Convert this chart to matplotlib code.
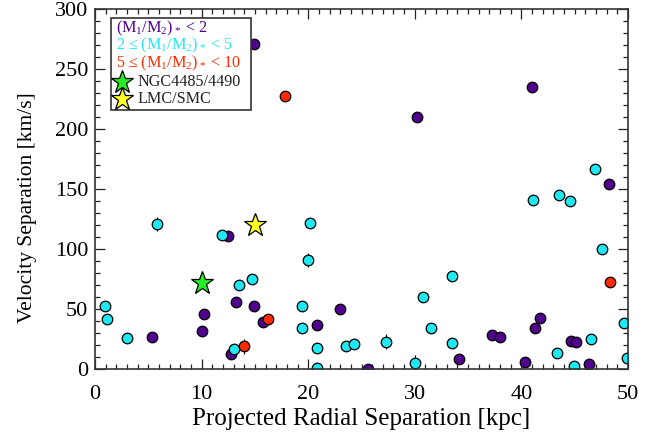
import matplotlib
matplotlib.use("Agg")
import matplotlib.pyplot as plt
from matplotlib.patches import Rectangle
from matplotlib.ticker import MultipleLocator

plt.rcParams['font.family'] = ['Liberation Serif', 'DejaVu Serif']
plt.rcParams['mathtext.fontset'] = 'custom'
plt.rcParams['mathtext.rm'] = 'Liberation Serif'
plt.rcParams['mathtext.it'] = 'Liberation Serif:italic'

# pairs with mass ratio (M1/M2)* < 2
low_x = [14.9, 30.2, 41.0, 48.2, 12.5, 13.2, 10.2, 14.9, 15.8, 5.3, 10.0, 12.8,
         23.0, 20.8, 25.6, 34.1, 37.2, 38.0, 41.3, 41.7, 40.3, 44.65, 45.1, 46.3]
low_y = [271, 210, 235, 154, 111, 56, 46, 53, 39, 27, 32, 13,
         50, 37, 0, 8.5, 28.6, 26.6, 34, 43, 6.4, 23.6, 22.8, 4.7]

# 2 <= ratio < 5
mid_x = [5.8, 11.9, 13.5, 14.75, 0.9, 1.1, 3.0, 13.0, 20.2, 20.0, 19.4, 19.4,
         20.8, 23.5, 24.3, 27.3, 20.8, 30.0, 30.8, 31.5, 33.5, 33.5, 46.9, 41.06,
         43.5, 44.6, 47.6, 43.3, 46.5, 44.9, 49.6, 49.9]
mid_y = [121, 112, 70, 75, 53, 42, 26, 17, 122, 91, 53, 34,
         18, 19, 21, 23, 1, 5.6, 60, 34, 78, 22, 167, 141,
         145, 140, 100, 13.6, 25, 2.7, 38.6, 9.7]
mid_err = [6, 0, 0, 0, 0, 0, 0, 0, 0, 6, 0, 0,
           0, 0, 0, 6, 0, 6, 0, 0, 0, 0, 0, 0,
           0, 0, 0, 0, 0, 0, 0, 0]

# 5 <= ratio < 10
high_x = [17.8, 16.25, 14.0, 48.3]
high_y = [228, 42, 19, 73]
high_err = [0, 0, 6, 0]

# reference pairs
ngc_x, ngc_y = [10.0], [72]
lmc_x, lmc_y = [15.0], [120]

c_low = '#50008c'
c_mid = '#1ee8f2'
c_high = '#ff2a00'

fig = plt.figure(figsize=(6.57, 4.34), dpi=100)
ax = fig.add_axes([0.1446, 0.1491, 0.8113, 0.8295])

circ = dict(marker='o', ms=7.6, mec='black', mew=0.9, ls='none')
ax.plot(low_x, low_y, color=c_low, **circ)
ax.errorbar(mid_x, mid_y, yerr=mid_err, fmt='none', ecolor='black', elinewidth=0.8)
ax.plot(mid_x, mid_y, color=c_mid, **circ)
ax.errorbar(high_x, high_y, yerr=high_err, fmt='none', ecolor='black', elinewidth=0.8)
ax.plot(high_x, high_y, color=c_high, **circ)

star = dict(marker='*', ms=17, mec='black', mew=0.9, ls='none')
ax.plot(ngc_x, ngc_y, color='#22ee22', **star)
ax.plot(lmc_x, lmc_y, color='#ffff22', **star)

ax.set_xlim(0, 50)
ax.set_ylim(0, 300)
ax.xaxis.set_major_locator(MultipleLocator(10))
ax.xaxis.set_minor_locator(MultipleLocator(1))
ax.yaxis.set_major_locator(MultipleLocator(50))
ax.yaxis.set_minor_locator(MultipleLocator(10))
ax.tick_params(which='both', direction='in', top=True, right=True,
               colors='#222222', labelcolor='black', labelsize=16)
ax.tick_params(which='major', length=7.2, width=0.9)
ax.tick_params(which='minor', length=3.6, width=0.9)
ax.tick_params(axis='x', pad=11)
ax.tick_params(axis='y', pad=5)
for s in ax.spines.values():
    s.set_color('#333333')
    s.set_linewidth(1.2)

ax.set_xlabel('Projected Radial Separation [kpc]', fontsize=18, labelpad=3)
ax.set_ylabel('Velocity Separation [km/s]', fontsize=15.5)
ax.yaxis.set_label_coords(-0.108, 0.45)

# legend box
ax.add_patch(Rectangle((0.030, 0.720), 0.262, 0.255, transform=ax.transAxes,
                       facecolor='white', edgecolor='#333333', lw=1.2, zorder=5))
ratio = r'(M$_1$/M$_2$)$_*$'
lines = [(ratio + ' < 2', c_low),
         ('2 ≤ ' + ratio + ' < 5', c_mid),
         ('5 ≤ ' + ratio + ' < 10', c_high)]
for i, (txt, col) in enumerate(lines):
    ax.text(0.040, 0.947 - i * 0.0485, txt, color=col, fontsize=11.6,
            transform=ax.transAxes, va='center', ha='left', zorder=6)
for j, (lab, col) in enumerate([('NGC4485/4490', '#22ee22'), ('LMC/SMC', '#ffff22')]):
    yy = 0.799 - j * 0.049
    ax.plot([0.050], [yy], transform=ax.transAxes, color=col, zorder=6,
            clip_on=False, **star)
    ax.text(0.080, yy, lab, color='#222222', fontsize=11.6,
            transform=ax.transAxes, va='center', ha='left', zorder=6)

fig.savefig('out.png', dpi=100)
